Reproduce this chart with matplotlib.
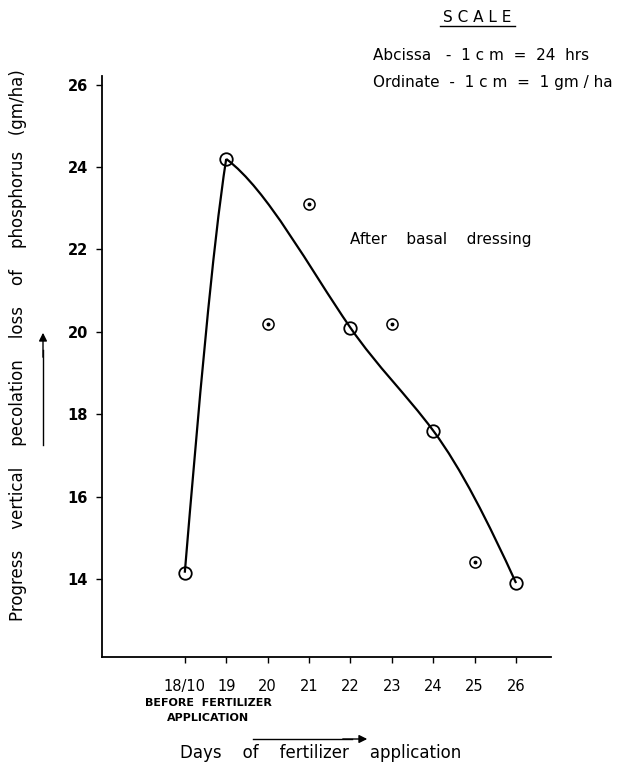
import numpy as np
import matplotlib.pyplot as plt
from matplotlib.path import Path
from matplotlib.patches import PathPatch

# days after 18/10 (18 = before fertilizer application)
days = [18, 19, 20, 21, 22, 23, 24, 25, 26]
day_labels = ['18/10', '19', '20', '21', '22', '23', '24', '25', '26']

# points the smooth curve passes through
curve_days = [18, 19, 22, 24, 26]
curve_loss = [14.15, 24.2, 20.1, 17.6, 13.9]

# scattered observations (dotted circles)
obs_days = [20, 21, 23, 25]
obs_loss = [20.2, 23.1, 20.2, 14.4]

y_ticks = [14, 16, 18, 20, 22, 24, 26]

# tangents (gm/ha per day) used to draw the hand-drawn curve
rise_slopes = [12.0, 6.5]
fall_slopes = [-0.75, -1.45, -1.35, -2.2]


def hermite_path(xs, ys, slopes):
    verts = [(xs[0], ys[0])]
    codes = [Path.MOVETO]
    for i in range(len(xs) - 1):
        h = xs[i + 1] - xs[i]
        verts += [(xs[i] + h / 3, ys[i] + slopes[i] * h / 3),
                  (xs[i + 1] - h / 3, ys[i + 1] - slopes[i + 1] * h / 3),
                  (xs[i + 1], ys[i + 1])]
        codes += [Path.CURVE4] * 3
    return Path(verts, codes)


fig = plt.figure(figsize=(6.18, 7.65), dpi=100)
ax = fig.add_axes([0.165, 0.141, 0.727, 0.76])
ax.set_xlim(16, 26.85)
ax.set_ylim(12.1, 26.22)

for sp in ['top', 'right']:
    ax.spines[sp].set_visible(False)
ax.spines['left'].set_linewidth(1.3)
ax.spines['bottom'].set_linewidth(1.3)

ax.add_patch(PathPatch(hermite_path(curve_days[:2], curve_loss[:2], rise_slopes),
                       fill=False, lw=1.6, color='black'))
ax.add_patch(PathPatch(hermite_path(curve_days[1:], curve_loss[1:], fall_slopes),
                       fill=False, lw=1.6, color='black'))

ax.plot(curve_days, curve_loss, 'o', ms=9, mfc='none', mec='black', mew=1.3)
ax.plot(obs_days, obs_loss, 'o', ms=8, mfc='none', mec='black', mew=1.1)
ax.plot(obs_days, obs_loss, 'o', ms=1.8, color='black')

ax.set_xticks(days)
ax.set_xticklabels(day_labels, fontsize=10.5)
ax.set_yticks(y_ticks)
ax.set_yticklabels([str(v) for v in y_ticks], fontsize=10.5, fontweight='bold')
ax.tick_params(direction='out', length=4, width=1, pad=6)
ax.tick_params(axis='x', pad=12)

ax.text(22.0, 22.25, 'After    basal    dressing', fontsize=11, ha='left', va='center')

# scale box
fig.text(477 / 618, 1 - 17 / 765, 'S C A L E', fontsize=11, ha='center', va='center')
fig.add_artist(plt.Line2D([440 / 618, 515 / 618], [1 - 26 / 765, 1 - 26 / 765],
                          color='black', lw=1))
fig.text(373 / 618, 1 - 56 / 765, 'Abcissa   -  1 c m  =  24  hrs', fontsize=11,
         ha='left', va='center')
fig.text(373 / 618, 1 - 82 / 765, 'Ordinate  -  1 c m  =  1 gm / ha', fontsize=11,
         ha='left', va='center')

# x-axis annotations
fig.text(208 / 618, 1 - 703 / 765, 'BEFORE  FERTILIZER', fontsize=8, fontweight='bold',
         ha='center', va='center')
fig.text(208 / 618, 1 - 718 / 765, 'APPLICATION', fontsize=8, fontweight='bold',
         ha='center', va='center')
fig.add_artist(plt.Line2D([253 / 618, 352 / 618], [1 - 739 / 765] * 2, color='black', lw=1))
fig.text(321 / 618, 1 - 753 / 765, 'Days    of    fertilizer    application', fontsize=12,
         ha='center', va='center')
ax.annotate('', xy=(370 / 618, 1 - 739 / 765), xytext=(340 / 618, 1 - 739 / 765),
            xycoords='figure fraction',
            arrowprops=dict(arrowstyle='-|>', color='black', lw=1, mutation_scale=12))

# y-axis label
fig.text(18 / 618, 1 - 345 / 765,
         'Progress    vertical    pecolation    loss    of    phosphorus   (gm/ha)',
         fontsize=12, rotation=90, ha='center', va='center')
fig.add_artist(plt.Line2D([43 / 618] * 2, [1 - 445 / 765, 1 - 350 / 765], color='black', lw=1))
ax.annotate('', xy=(43 / 618, 1 - 330 / 765), xytext=(43 / 618, 1 - 360 / 765),
            xycoords='figure fraction',
            arrowprops=dict(arrowstyle='-|>', color='black', lw=1, mutation_scale=12))

fig.savefig('out.png', dpi=100, facecolor='white')
